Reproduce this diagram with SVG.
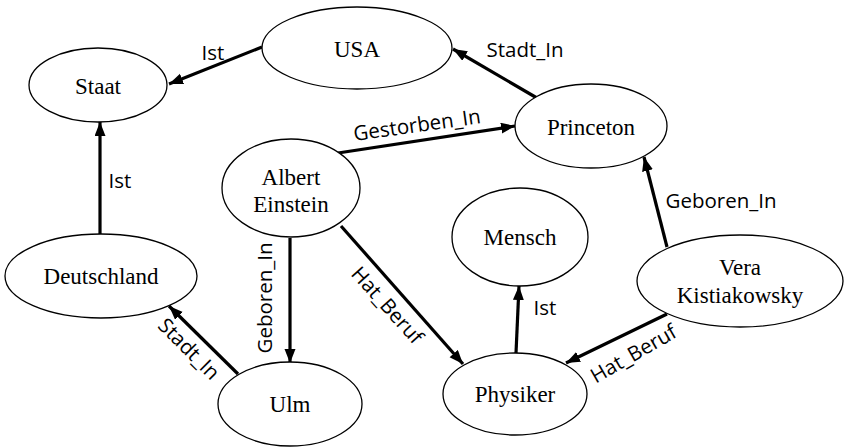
<svg xmlns="http://www.w3.org/2000/svg" width="846" height="447" viewBox="0 0 846 447">
<style>
.n ellipse{fill:#fff;stroke:#000;stroke-width:1.3}
.nt{font-family:'Liberation Serif','DejaVu Serif',serif;font-size:23px;fill:#000;text-anchor:middle}
.c line{stroke:#000;stroke-width:3.2;marker-end:url(#ah)}
.l{font-family:'Open Sans','Liberation Sans',sans-serif;font-size:20.5px;fill:#000;text-anchor:middle}
</style>
<defs>
<marker id="ah" markerUnits="userSpaceOnUse" markerWidth="16" markerHeight="12" refX="14" refY="5.5" orient="auto">
<path d="M0,0 L14,5.5 L0,11 z" fill="#000"/>
</marker>
</defs>
<rect width="846" height="447" fill="#fff"/>
<g id="connectors" class="c">
<line x1="262" y1="47" x2="169" y2="84"/>
<line x1="100" y1="234" x2="100" y2="122"/>
<line x1="338" y1="153" x2="515" y2="126"/>
<line x1="537" y1="98" x2="453" y2="49"/>
<line x1="667" y1="247" x2="644" y2="157"/>
<line x1="290" y1="238" x2="290" y2="363"/>
<line x1="341" y1="226" x2="463" y2="364"/>
<line x1="238" y1="374" x2="169" y2="306"/>
<line x1="516" y1="353" x2="519" y2="286"/>
<line x1="667" y1="314" x2="566" y2="363"/>
</g>
<g id="labels">
<text class="l" x="213" y="60">Ist</text>
<text class="l" x="120" y="188">Ist</text>
<text class="l" x="525" y="57">Stadt_In</text>
<text class="l" transform="rotate(-8 418 132)" x="418" y="132">Gestorben_In</text>
<text class="l" x="721" y="208">Geboren_In</text>
<text class="l" transform="translate(272 298) rotate(-90)" x="0" y="0">Geboren_In</text>
<text class="l" transform="translate(382 310) rotate(48)" x="0" y="0">Hat_Beruf</text>
<text class="l" transform="translate(184 354) rotate(45)" x="0" y="0">Stadt_In</text>
<text class="l" transform="translate(637 360) rotate(-30)" x="0" y="0">Hat_Beruf</text>
<text class="l" x="545" y="315">Ist</text>
</g>
<g id="staat" class="n"><ellipse cx="98" cy="85" rx="69" ry="37"/><text class="nt" x="98" y="94">Staat</text></g>
<g id="usa" class="n"><ellipse cx="357" cy="48" rx="95" ry="41"/><text class="nt" x="357" y="57">USA</text></g>
<g id="princeton" class="n"><ellipse cx="591" cy="126" rx="76" ry="42"/><text class="nt" x="591" y="135">Princeton</text></g>
<g id="einstein" class="n"><ellipse cx="291" cy="188" rx="69" ry="49"/><text class="nt" x="291" y="185">Albert</text><text class="nt" x="291" y="212">Einstein</text></g>
<g id="deutschland" class="n"><ellipse cx="101" cy="276" rx="96" ry="42"/><text class="nt" x="101" y="284">Deutschland</text></g>
<g id="ulm" class="n"><ellipse cx="290" cy="404" rx="72" ry="42"/><text class="nt" x="290" y="412">Ulm</text></g>
<g id="mensch" class="n"><ellipse cx="520" cy="237" rx="68" ry="49"/><text class="nt" x="520" y="245">Mensch</text></g>
<g id="physiker" class="n"><ellipse cx="515" cy="394" rx="72" ry="41"/><text class="nt" x="515" y="402">Physiker</text></g>
<g id="vera" class="n"><ellipse cx="740" cy="281" rx="103" ry="46"/><text class="nt" x="740" y="275">Vera</text><text class="nt" x="740" y="303">Kistiakowsky</text></g>
</svg>
